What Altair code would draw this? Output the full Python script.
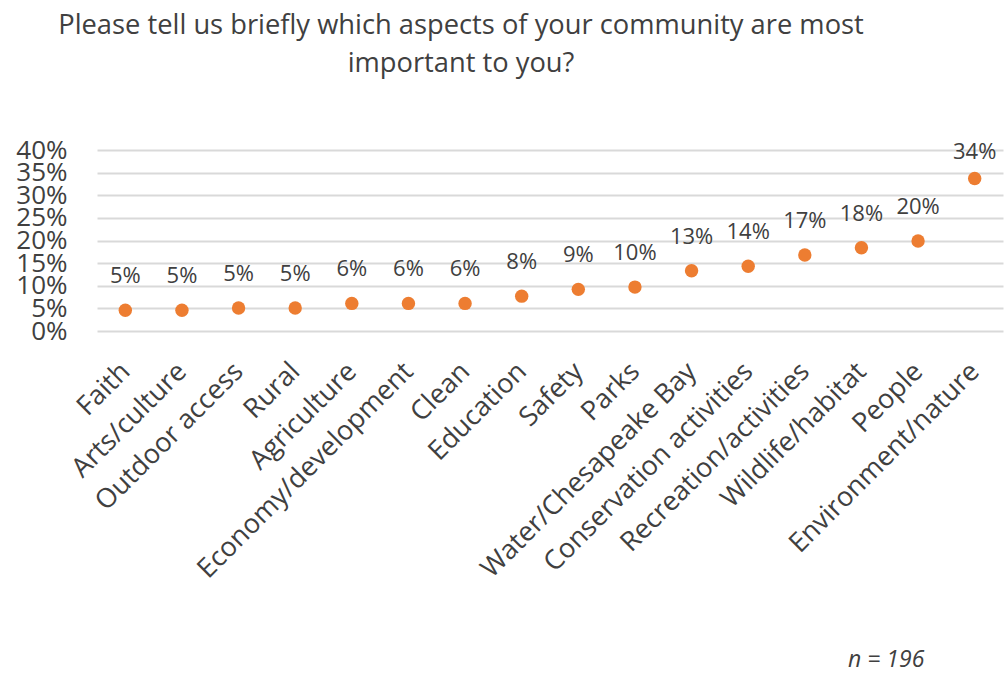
import altair as alt
import pandas as pd

categories = ["Faith", "Arts/culture", "Outdoor access", "Rural", "Agriculture",
              "Economy/development", "Clean", "Education", "Safety", "Parks",
              "Water/Chesapeake Bay", "Conservation activities", "Recreation/activities",
              "Wildlife/habitat", "People", "Environment/nature"]
shares = [0.046, 0.046, 0.051, 0.051, 0.061, 0.061, 0.061, 0.077, 0.092, 0.097,
          0.133, 0.143, 0.168, 0.184, 0.199, 0.337]
y_ticks = [0, 0.05, 0.10, 0.15, 0.20, 0.25, 0.30, 0.35, 0.40]
note = ["n = 196"]

df = pd.DataFrame({"category": categories, "share": shares})

FONT = "Open Sans"
TXT = "#404040"

xenc = alt.X("category:N", sort=categories, title=None,
             scale=alt.Scale(paddingInner=0, paddingOuter=0.5),
             axis=alt.Axis(labelAngle=-45, labelFontSize=27, labelFont=FONT,
                           labelColor=TXT, domain=False, ticks=False,
                           labelAlign="right", labelBaseline="middle",
                           labelPadding=36, labelLimit=400, labelOverlap=False))
yscale = alt.Scale(domain=[0, 0.40], nice=False)
yaxis = alt.Axis(values=y_ticks, format=".0%", labelFontSize=26,
                 labelFont=FONT, labelColor=TXT, domain=False,
                 ticks=False, labelPadding=30, gridColor="#d9d9d9",
                 gridWidth=2, labelOverlap=False, tickCount=9)

points = alt.Chart(df).mark_circle(size=180, color="#ED7D31", opacity=1).encode(
    x=xenc,
    y=alt.Y("share:Q", title=None, scale=yscale, axis=yaxis),
)

labels = alt.Chart(df).transform_calculate(
    label_pos="min(datum.share + 0.075, 0.396)"
).mark_text(fontSize=22, font=FONT, color=TXT, baseline="middle").encode(
    x=xenc,
    y=alt.Y("label_pos:Q", title=None, scale=yscale, axis=yaxis),
    text=alt.Text("share:Q", format=".0%"))

note_layer = alt.Chart(pd.DataFrame({"t": note})).mark_text(
    font=FONT, fontSize=23, fontStyle="italic", color=TXT, align="left"
).encode(text="t:N", x=alt.value(751), y=alt.value(510))

chart = alt.layer(points, labels, note_layer).properties(
    width=906, height=181,
    title=alt.TitleParams(
        ["Please tell us briefly which aspects of your community are most",
         "important to you?"],
        font=FONT, fontSize=27.3, fontWeight="normal", color=TXT,
        anchor="middle", dx=-89, offset=60, lineHeight=38),
    autosize=alt.AutoSizeParams(type="none"),
    padding={"left": 97, "top": 150, "right": 4, "bottom": 342},
).configure_view(stroke=None)

chart.save("out.html", embed_options={"renderer": "svg", "actions": False})
